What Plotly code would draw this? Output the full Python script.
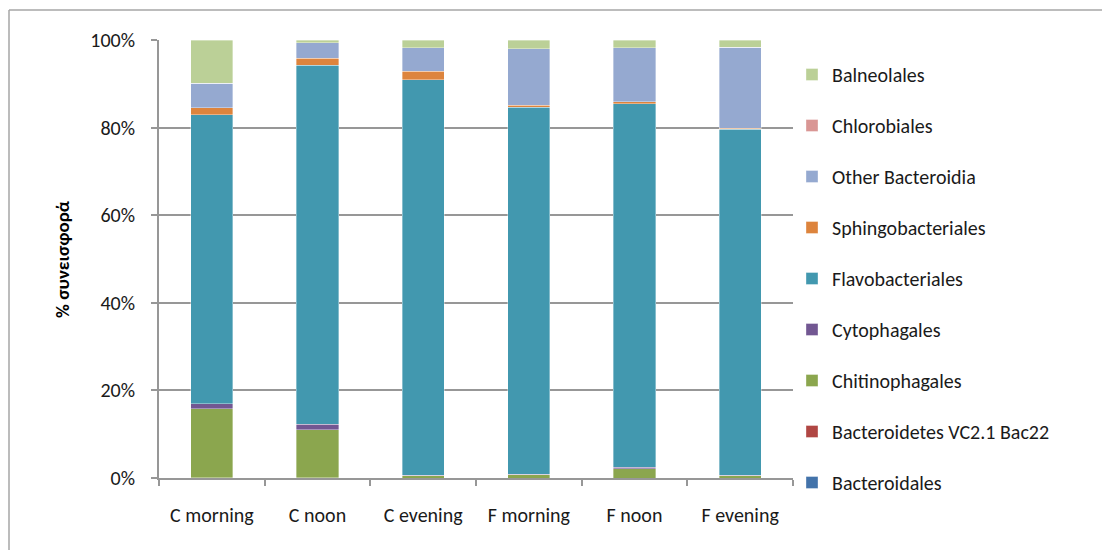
import plotly.graph_objects as go

# Sample labels along the x axis
samples = ["C morning", "C noon", "C evening", "F morning", "F noon", "F evening"]

# Relative contribution (%) of each order, per sample
bacteroidales = [0.1, 0.1, 0.0, 0.0, 0.0, 0.0]
bac22 = [0.0, 0.0, 0.0, 0.0, 0.0, 0.0]
chitinophagales = [15.7, 10.9, 0.5, 0.8, 2.1, 0.5]
cytophagales = [1.1, 1.3, 0.1, 0.1, 0.4, 0.1]
flavobacteriales = [66.0, 81.9, 90.3, 83.7, 83.0, 79.0]
sphingobacteriales = [1.6, 1.6, 2.0, 0.5, 0.4, 0.3]
other_bacteroidia = [5.6, 3.6, 5.3, 12.9, 12.3, 18.4]
chlorobiales = [0.0, 0.0, 0.0, 0.0, 0.0, 0.1]
balneolales = [9.9, 0.6, 1.8, 2.0, 1.8, 1.6]

y_ticks = [0, 20, 40, 60, 80, 100]
y_tick_labels = ["0%", "20%", "40%", "60%", "80%", "100%"]
y_title = "% συνεισφορά"

# stacking order: bottom -> top
series = [
    ("Bacteroidales", bacteroidales, "#4373AA"),
    ("Bacteroidetes VC2.1 Bac22", bac22, "#B04643"),
    ("Chitinophagales", chitinophagales, "#8BA64E"),
    ("Cytophagales", cytophagales, "#725792"),
    ("Flavobacteriales", flavobacteriales, "#4298AF"),
    ("Sphingobacteriales", sphingobacteriales, "#DD843D"),
    ("Other Bacteroidia", other_bacteroidia, "#95A9D0"),
    ("Chlorobiales", chlorobiales, "#D99694"),
    ("Balneolales", balneolales, "#BBD097"),
]

FONT = "Carlito, Calibri, Lato, sans-serif"
GRID = "#979797"
FS = 20

fig = go.Figure()
n = len(series)
for i, (name, vals, color) in enumerate(series):
    fig.add_trace(go.Bar(
        x=samples, y=vals, name=name, legendgroup=f"g{i}",
        legendrank=n - i,  # top of the stack listed first
        marker=dict(color=color, line=dict(color="rgba(255,255,255,0.6)", width=0.6)),
    ))

fig.update_layout(
    barmode="stack",
    bargap=0.6,
    width=1102, height=550,
    margin=dict(l=159, r=309, t=40, b=72),
    plot_bgcolor="white", paper_bgcolor="white",
    font=dict(family=FONT, size=FS, color="#1a1a1a"),
    showlegend=True,
    legend=dict(
        x=(792 - 159) / 634, xanchor="left", y=1.0 - 15 / 438, yanchor="top",
        traceorder="grouped", tracegroupgap=22, maxheight=1000,
        font=dict(size=FS), itemwidth=30,
        bgcolor="rgba(0,0,0,0)",
    ),
    xaxis=dict(
        type="category", showgrid=False, showline=True, linecolor=GRID, linewidth=2,
        ticks="outside", tickson="boundaries", ticklen=6, tickcolor=GRID, tickwidth=2,
        tickfont=dict(size=FS), ticklabelstandoff=18,
    ),
    yaxis=dict(
        range=[0, 100], tickvals=y_ticks, ticktext=y_tick_labels,
        showgrid=True, gridcolor=GRID, gridwidth=2,
        showline=True, linecolor=GRID, linewidth=2,
        ticks="outside", ticklen=6, tickcolor=GRID, tickwidth=2,
        tickfont=dict(size=FS), zeroline=False, ticklabelstandoff=12,
    ),
    annotations=[dict(
        text=f"<b>{y_title}</b>", xref="paper", yref="paper",
        x=(62 - 159) / 634, y=(478 - 259) / 438, textangle=-90, showarrow=False,
        font=dict(size=19, color="black"), xanchor="center", yanchor="middle",
    )],
    shapes=[
        dict(type="line", xref="paper", yref="paper",
             x0=(9 - 159) / 634, x1=(1110 - 159) / 634,
             y0=(478 - 10) / 438, y1=(478 - 10) / 438,
             line=dict(color="#a6a6a6", width=1.5)),
        dict(type="line", xref="paper", yref="paper",
             x0=(9 - 159) / 634, x1=(9 - 159) / 634,
             y0=(478 - 10) / 438, y1=(478 - 560) / 438,
             line=dict(color="#a6a6a6", width=1.5)),
    ],
)

fig.write_html("out.html")
